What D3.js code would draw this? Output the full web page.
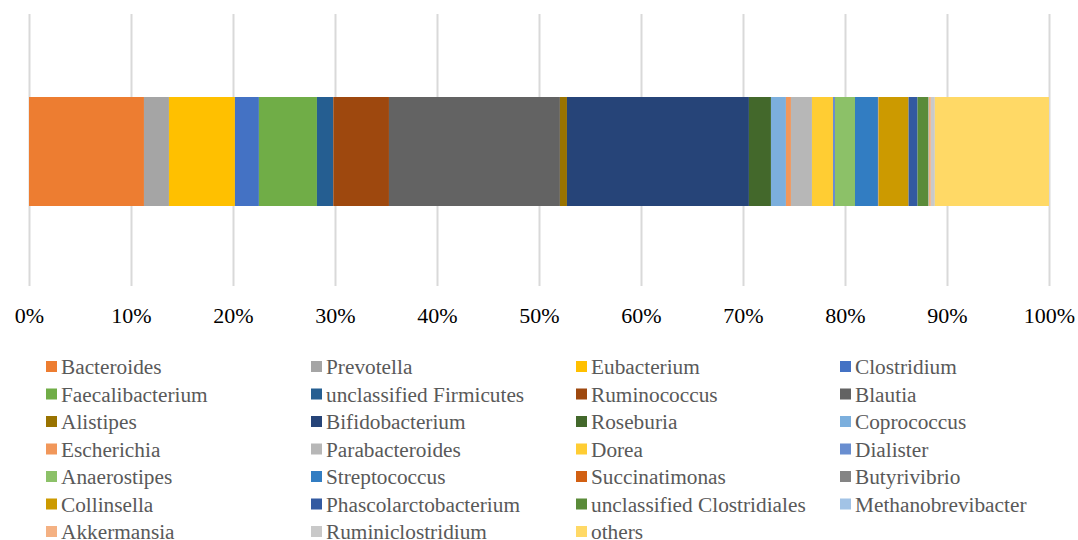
<!DOCTYPE html>
<html>
<head>
<meta charset="utf-8">
<script src="https://cdn.jsdelivr.net/npm/d3@7"></script>
<style>
  body { margin: 0; background: #fff; }
  svg { display: block; font-family: "Liberation Serif", "Times New Roman", serif; }
</style>
</head>
<body>
<svg id="chart" width="1078" height="540"></svg>
<script>
// genus names, in stacking order
const genera = [
  "Bacteroides", "Prevotella", "Eubacterium", "Clostridium",
  "Faecalibacterium", "unclassified Firmicutes", "Ruminococcus", "Blautia",
  "Alistipes", "Bifidobacterium", "Roseburia", "Coprococcus",
  "Escherichia", "Parabacteroides", "Dorea", "Dialister",
  "Anaerostipes", "Streptococcus", "Succinatimonas", "Butyrivibrio",
  "Collinsella", "Phascolarctobacterium", "unclassified Clostridiales", "Methanobrevibacter",
  "Akkermansia", "Ruminiclostridium", "others"
];

// relative abundance (%)
const abundance = [
  11.27, 2.45, 6.47, 2.35,
  5.69, 1.6, 5.46, 16.76,
  0.69, 17.84, 2.16, 1.47,
  0.49, 2.06, 2.06, 0.2,
  1.96, 2.25, 0.03, 0.03,
  2.94, 0.88, 1.08, 0.03,
  0.2, 0.39, 11.19
];

const colors = [
  "#ED7D31", "#A5A5A5", "#FFC000", "#4472C4",
  "#70AD47", "#255E91", "#9E480E", "#636363",
  "#997300", "#264478", "#43682B", "#7CAFDD",
  "#F1975A", "#B7B7B7", "#FFCD33", "#698ED0",
  "#8CC168", "#327DC2", "#D26012", "#848484",
  "#CC9A00", "#335AA1", "#5A8B39", "#A2C3E6",
  "#F4B183", "#C9C9C9", "#FFD966"
];

const tickValues = [0, 0.1, 0.2, 0.3, 0.4, 0.5, 0.6, 0.7, 0.8, 0.9, 1];

const svg = d3.select("#chart");
const total = d3.sum(abundance);

const x = d3.scaleLinear().domain([0, 1]).range([29, 1049]);
const plotTop = 14, plotBottom = 286;

// gridlines
svg.append("g")
  .attr("transform", `translate(0,${plotBottom})`)
  .call(d3.axisBottom(x).tickValues(tickValues).tickSize(-(plotBottom - plotTop)).tickFormat(""))
  .call(g => g.select(".domain").remove())
  .call(g => g.selectAll("line").attr("stroke", "#D9D9D9").attr("stroke-width", 2));

// stacked segments
let acc = 0;
const segments = abundance.map((v, i) => {
  const s = { name: genera[i], color: colors[i], x0: acc / total, x1: (acc + v) / total };
  acc += v;
  return s;
});

svg.append("g")
  .selectAll("rect")
  .data(segments)
  .join("rect")
  .attr("x", d => x(d.x0))
  .attr("width", d => x(d.x1) - x(d.x0))
  .attr("y", 97)
  .attr("height", 109)
  .attr("fill", d => d.color);

// tick labels
svg.append("g")
  .attr("transform", `translate(0,${plotBottom})`)
  .call(d3.axisBottom(x).tickValues(tickValues).tickSize(0).tickFormat(d3.format(".0%")))
  .call(g => g.select(".domain").remove())
  .call(g => g.selectAll("text")
    .attr("font-family", "Liberation Serif, Times New Roman, serif")
    .attr("font-size", 22)
    .attr("fill", "#000")
    .attr("y", 37)
    .attr("dy", 0));

// legend, four columns
const colX = [46, 311, 576, 840];
const legend = svg.append("g")
  .selectAll("g")
  .data(segments)
  .join("g")
  .attr("transform", (d, i) => `translate(${colX[i % 4]},${374 + Math.floor(i / 4) * 27.5})`);

legend.append("rect")
  .attr("x", 0)
  .attr("y", -13)
  .attr("width", 11)
  .attr("height", 11)
  .attr("fill", d => d.color);

legend.append("text")
  .attr("x", 15)
  .attr("font-size", 21.3)
  .attr("fill", "#595959")
  .text(d => d.name);
</script>
</body>
</html>
